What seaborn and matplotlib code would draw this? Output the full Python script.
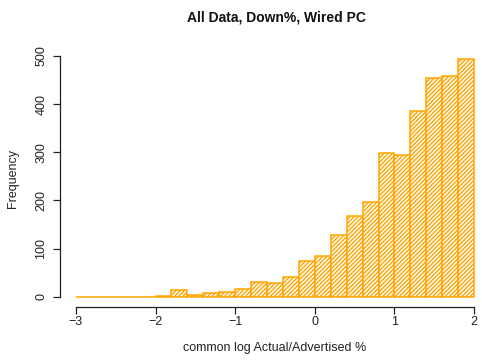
import numpy as np
import matplotlib
matplotlib.use("Agg")
import matplotlib.pyplot as plt
import seaborn as sns

# histogram of log10(actual/advertised %), bins of 0.2 from -3 to 2
bin_edges = [round(-3 + 0.2 * i, 1) for i in range(26)]
counts = [0, 0, 0, 0, 0, 1, 14, 3, 7, 9,
          16, 30, 28, 40, 74, 84, 128, 168, 197, 298,
          294, 386, 454, 459, 493]
bin_mids = [(a + b) / 2 for a, b in zip(bin_edges[:-1], bin_edges[1:])]

title = "All Data, Down%, Wired PC"
xlab = "common log Actual/Advertised %"
ylab = "Frequency"
xticks = [-3, -2, -1, 0, 1, 2]
yticks = [0, 100, 200, 300, 400, 500]

sns.set_style("white")
plt.rcParams['font.family'] = ['Liberation Sans', 'DejaVu Sans']
plt.rcParams['hatch.linewidth'] = 1.0

orange = "#FFA500"

fig = plt.figure(figsize=(4.82, 3.62), dpi=100)
ax = fig.add_axes([60 / 482, 1 - 306.7 / 362, 430 / 482, 257.9 / 362])

sns.histplot(x=bin_mids, weights=counts, bins=bin_edges, ax=ax,
             color=orange, element="bars", fill=True)
for p in ax.patches:
    p.set_facecolor("white")
    p.set_edgecolor(orange)
    p.set_linewidth(1.1)
    p.set_hatch("////////")
    p.set_alpha(1)

ax.set_xlim(-3.2, 2.2)
ax.set_ylim(-20.8, 515)

for s in ["top", "right"]:
    ax.spines[s].set_visible(False)
for s in ["left", "bottom"]:
    ax.spines[s].set_color("#222222")
    ax.spines[s].set_linewidth(0.9)
ax.spines["left"].set_bounds(0, 500)
ax.spines["bottom"].set_bounds(-3, 2)

ax.set_xticks(xticks)
ax.set_xticklabels(["\u22123", "\u22122", "\u22121", "0", "1", "2"])
ax.set_yticks(yticks)
ax.set_yticklabels([str(v) for v in yticks], rotation=90, va="center")
ax.tick_params(axis="both", direction="out", length=5, width=0.9,
               color="#222222", labelsize=9, labelcolor="#222222",
               left=True, bottom=True)
ax.tick_params(axis="x", pad=1.5)
ax.tick_params(axis="y", pad=4)

ax.set_xlabel(xlab, fontsize=9, color="#222222")
ax.xaxis.set_label_coords(0.5, (14 / 362 - (1 - 306.7 / 362)) / (257.9 / 362))
ax.xaxis.label.set_va("center")
ax.set_ylabel(ylab, fontsize=9, color="#222222")
ax.yaxis.set_label_coords((12.5 - 60) / 430, (306.7 - 178) / 257.9)
ax.yaxis.label.set_va("center")

fig.text(276 / 482, 1 - 18 / 362, title, ha="center", va="center",
         fontsize=10, fontweight="bold", color="#111111")

fig.savefig("out.png", dpi=100)
